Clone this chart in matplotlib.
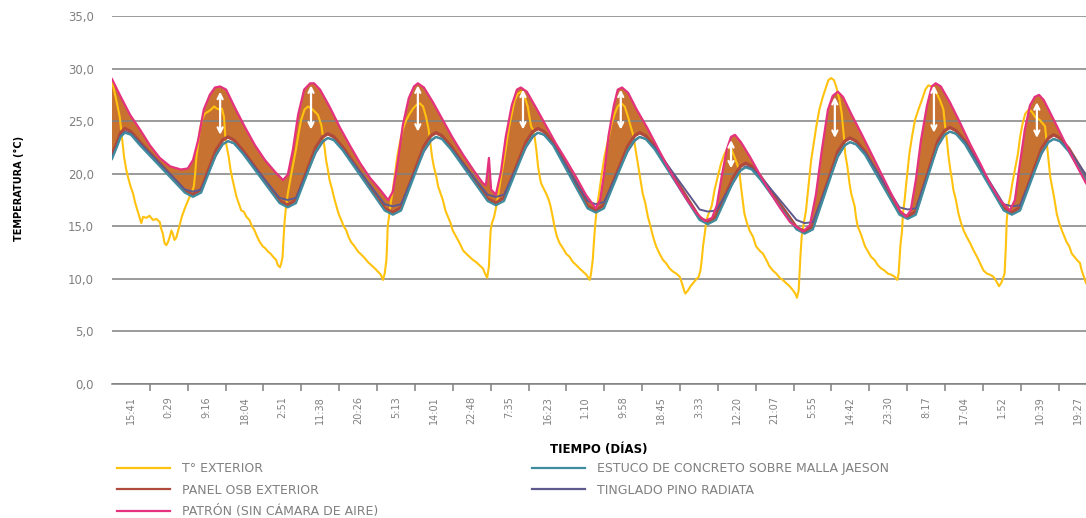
import numpy as np
import matplotlib.pyplot as plt
from matplotlib.lines import Line2D

# time axis: hours after the first reading (15:41)
tick_labels = ['15:41', '0:29', '9:16', '18:04', '2:51', '11:38', '20:26', '5:13', '14:01',
               '22:48', '7:35', '16:23', '1:10', '9:58', '18:45', '3:33', '12:20', '21:07',
               '5:55', '14:42', '23:30', '8:17', '17:04', '1:52', '10:39', '19:27']
tick_step = 8.79  # hours between labels

# T° exterior
ext_t = [-4.4, -3.4, -2.6, -2.1, -1.6, -1.1, -0.5, -0.1, 0.5, 1.0, 1.6, 2.0, 2.4, 2.8, 3.6, 4.3,
         5.1, 5.9, 6.7, 7.0, 7.4, 7.8, 8.2, 8.6, 9.0, 9.4, 9.7, 10.1, 10.5, 10.9, 11.3, 11.8,
         12.5, 13.1, 13.6, 14.2, 14.6, 14.9, 15.2, 15.6, 16.0, 16.5, 17.1, 17.9, 18.6, 19.3,
         19.9, 20.6, 21.1, 21.6, 21.9, 22.2, 22.7, 23.1, 23.6, 24.1, 24.5, 25.0, 25.6, 26.2,
         26.8, 27.5, 28.1, 28.7, 29.3, 29.9, 30.6, 31.2, 31.8, 32.4, 33.0, 33.7, 34.1, 34.6,
         34.9, 35.2, 35.4, 35.7, 36.0, 36.4, 37.1, 37.7, 38.3, 38.9, 39.5, 40.3, 41.1,
         42.2, 43.4, 44.2, 44.6, 45.0, 45.3, 45.7, 46.1, 46.7, 47.1, 47.7, 48.2, 48.8, 49.4,
         50.0, 50.5, 51.1, 51.9, 52.7, 53.5, 54.2, 55.0, 55.8, 56.6, 57.3, 58.0, 58.5, 58.9,
         59.3, 59.5, 59.6, 59.9, 60.3, 60.8, 61.3, 61.8, 62.4, 63.1, 63.9, 64.7, 65.5, 66.2,
         67.0, 67.8, 68.5, 69.1, 69.3, 69.6, 69.9, 70.3, 70.9, 71.3, 71.9, 72.4, 73.0, 73.6,
         74.2, 74.7, 75.5, 76.3, 77.1, 77.8, 78.6, 79.4, 80.1, 80.9, 81.7, 82.2, 82.7, 83.1,
         83.3, 83.5, 83.8, 84.3, 84.8, 85.3, 85.9, 86.6, 87.2, 87.8, 88.4,
         89.1, 89.8, 90.6, 91.4, 92.1, 92.5, 92.9, 93.3, 93.7, 94.1, 94.5, 94.9, 95.2, 95.9,
         96.4, 97.0, 97.4, 97.9, 98.3, 98.9, 99.5, 100.3, 101.0, 101.8, 102.6, 103.4, 104.1,
         104.9, 105.7, 106.5, 106.8, 107.2, 107.5, 107.8, 108.2, 108.8, 109.3, 109.9, 110.6,
         111.1, 111.6, 112.3, 113.0, 113.8, 114.6, 115.4, 116.0, 116.5, 116.9, 117.3, 117.8,
         118.3, 118.8, 119.4, 120.0, 120.6, 121.2, 121.9, 122.7, 123.5, 124.2, 125.0, 125.8,
         126.6, 127.4, 127.9, 128.4, 128.7, 129.3, 129.9, 130.5, 131.1, 131.8, 132.2, 132.5,
         132.8, 133.2, 133.6, 134.1, 134.8,
         135.5, 136.2, 137.0, 137.8, 138.6, 139.3, 140.1, 140.9, 141.3, 141.6, 142.0, 142.4,
         143.0, 143.6, 144.4, 145.1, 145.9, 146.7, 147.5, 148.2, 149.0, 149.8, 150.6, 151.3,
         152.1, 152.9, 153.7, 154.2, 154.6, 155.0, 155.2, 155.4, 155.7, 156.2, 156.7, 157.1,
         157.5, 157.9, 158.5, 159.1, 159.8, 160.6, 161.4, 161.9, 162.5, 163.2, 163.7, 164.5,
         165.0, 165.5, 165.8, 166.3, 166.8, 167.2, 167.6, 168.0, 168.3, 168.7, 169.4, 169.9,
         170.4, 171.1, 171.8, 172.6, 173.4, 174.1, 174.9, 175.7, 176.5, 177.3, 177.9, 178.2,
         178.4, 178.6, 179.0, 179.2, 179.6, 179.9, 180.3, 180.7, 181.3,
         182.0, 182.8, 183.6, 184.4, 185.1, 185.9, 187.1, 187.8, 188.6, 189.0, 189.4, 189.8,
         190.2, 190.6, 190.9, 191.5, 192.1, 192.7, 193.3, 194.0, 194.8, 195.6, 196.4, 197.1,
         197.9, 198.7, 199.4, 200.2, 201.0, 201.5, 202.0, 202.3, 202.8, 203.1, 203.3, 203.6,
         204.1, 204.6, 205.2, 205.9, 206.4, 207.0, 207.6, 208.4, 209.1, 209.9, 211.0, 212.2,
         212.6, 213.0, 213.4, 213.8, 214.4, 214.9, 215.5, 216.1, 216.7, 217.2, 217.8, 218.4,
         219.0, 219.6, 220.3, 220.7, 221.2, 221.7]
ext_T = [28.8, 27.0, 25.4, 23.5, 21.6, 20.4, 19.4, 18.8, 18.1, 17.2, 16.4, 15.9, 15.3, 15.9, 15.8, 16.0,
         15.6, 15.7, 15.4, 14.8, 14.3, 13.4, 13.2, 13.5, 14.0, 14.6, 14.3, 13.7, 13.9, 14.5, 15.1, 15.9,
         16.7, 17.3, 17.8, 18.3, 18.8, 20.0, 21.6, 22.9, 24.2, 25.1, 25.7, 25.9, 26.1, 26.4,
         26.2, 26.1, 26.2, 25.4, 23.5, 22.6, 21.6, 20.4, 19.4, 18.5, 17.8, 17.2, 16.5, 16.4,
         15.9, 15.6, 15.0, 14.6, 14.0, 13.5, 13.1, 12.9, 12.6, 12.4, 12.1, 11.8, 11.3, 11.1,
         11.5, 12.1, 13.7, 15.6, 16.9, 18.1, 19.7, 21.0, 22.3, 23.8, 25.1, 26.1, 26.4,
         26.1, 25.6, 24.6, 23.5, 22.3, 21.3, 20.4, 19.4, 18.5, 17.8, 16.9, 16.2, 15.6, 15.0,
         14.6, 14.0, 13.5, 13.1, 12.6, 12.3, 12.0, 11.6, 11.3, 11.0, 10.7, 10.4, 9.9, 10.5,
         11.8, 13.7, 15.0, 15.9, 17.2, 18.5, 20.0, 21.6, 22.9, 24.2, 25.1, 25.7, 26.2, 26.5,
         26.7, 26.4, 25.4, 24.2, 23.5, 22.6, 21.6, 20.7, 19.7, 18.8, 18.1, 17.5, 16.5, 15.9,
         15.3, 14.6, 14.0, 13.4, 12.7, 12.4, 12.1, 11.8, 11.6, 11.3, 11.0, 10.5, 10.1, 11.2,
         13.1, 14.6, 15.3, 15.9, 16.9, 18.1, 19.7, 21.3, 22.9, 24.5, 25.7,
         27.0, 27.6, 27.8, 27.3, 26.4, 25.4, 24.5, 24.2, 23.5, 22.3, 20.7, 19.7, 19.1, 18.5,
         18.1, 17.5, 16.9, 15.9, 15.0, 14.0, 13.4, 12.9, 12.4, 12.1, 11.6, 11.3, 11.0,
         10.7, 10.4, 9.9, 10.5, 11.8, 13.7, 15.3, 16.9, 18.5, 20.0, 21.6, 22.9,
         23.8, 24.8, 25.7, 26.4, 26.7, 26.4, 25.4, 24.5, 23.8, 22.9, 21.9, 20.7,
         19.4, 18.1, 17.2, 15.9, 15.0, 14.0, 13.1, 12.4, 11.8, 11.5, 11.0, 10.7,
         10.5, 10.2, 9.6, 8.9, 8.6, 8.9, 9.3, 9.6, 9.9, 10.2, 10.8, 11.8,
         13.1, 14.3, 15.6, 16.2, 16.9,
         18.5, 19.7, 21.0, 21.9, 22.5, 22.4, 21.6, 20.7, 20.0, 18.8, 17.5, 16.2,
         15.3, 14.6, 14.0, 13.1, 12.7, 12.4, 11.8, 11.2, 10.8, 10.5, 10.1, 9.9,
         9.6, 9.3, 8.9, 8.6, 8.2, 8.9, 10.5, 12.1, 14.0, 15.3, 16.5, 18.1,
         19.7, 21.3, 22.9, 24.5, 26.1, 27.3, 28.3, 28.9, 29.1, 28.9, 28.3, 27.0,
         25.7, 23.5, 21.9, 20.7, 19.1, 18.1, 17.5, 16.9, 15.9, 15.0, 14.3, 13.7,
         13.1, 12.6, 12.1, 11.8, 11.3, 11.0, 10.8, 10.5, 10.4, 10.2, 9.9, 10.5,
         11.8, 13.1, 14.6, 16.2, 17.5, 18.8, 20.4, 21.9, 23.5,
         25.1, 26.1, 27.0, 28.0, 28.4, 28.3, 27.6, 27.0, 26.1, 24.5, 23.2, 21.6,
         20.4, 19.4, 18.5, 17.5, 16.2, 15.3, 14.6, 14.0, 13.4, 12.7, 12.1, 11.5,
         10.8, 10.5, 10.4, 10.2, 9.7, 9.3, 9.6, 9.9, 10.5, 13.1, 15.6, 16.9,
         17.8, 19.1, 20.4, 21.9, 23.5, 24.8, 25.7, 26.1, 25.9, 25.4, 25.1, 24.5,
         22.9, 21.3, 19.7, 18.8, 17.5, 16.2, 15.3, 14.6, 14.0, 13.5, 13.1, 12.4,
         12.1, 11.8, 11.5, 10.8, 10.2, 9.6]

# Patrón (sin cámara de aire)
pat_t = [-4.4, -2.6, -0.2, 2.1, 4.4, 6.7, 9.1, 11.6, 13.2, 14.4, 15.6, 16.9, 18.3, 19.5, 20.7,
         22.1, 24.1, 26.5, 28.8, 31.1, 33.4, 35.3, 36.4, 37.6, 38.8, 40.2, 41.6, 42.5, 43.9,
         46.2, 48.5, 50.8, 53.2, 55.5, 57.8, 59.7, 60.8, 62.0, 63.1, 64.5, 65.7, 66.6, 68.0,
         70.1, 72.4, 74.7, 77.1, 79.4, 81.7, 82.4, 83.1, 83.6, 84.7, 85.9, 87.0, 88.4, 89.6,
         90.5, 91.9, 94.0, 96.3, 98.6, 101.0, 103.3, 105.6, 107.9, 108.9, 109.8, 110.9, 112.1,
         113.0, 114.0, 115.4, 117.4, 119.8, 122.1, 124.4, 126.7, 129.1, 131.4, 133.2, 134.9,
         136.0, 137.2, 138.3, 139.3, 140.2, 141.6, 143.7, 146.0, 148.3, 150.6, 153.0, 156.0,
         157.6, 159.0, 160.4, 161.8, 162.9, 164.1, 165.3, 167.3, 169.7, 172.0, 174.3, 176.6,
         178.5, 179.9, 181.0, 182.2, 183.4, 184.8, 185.9, 186.8, 188.0, 190.1, 192.4, 194.7,
         197.1, 199.4, 201.7, 204.0, 205.2, 206.3, 207.5, 208.7, 209.8, 210.8, 211.9, 214.0,
         216.3, 218.6, 221.7]
pat_T = [29.0, 27.5, 25.6, 24.2, 22.7, 21.5, 20.7, 20.4, 20.5, 21.3, 23.2, 26.1, 27.5, 28.2, 28.3,
         28.0, 26.3, 24.4, 22.7, 21.3, 20.2, 19.4, 19.9, 22.3, 25.6, 28.0, 28.6, 28.6, 28.0,
         26.3, 24.4, 22.7, 21.0, 19.6, 18.5, 17.5, 18.3, 21.3, 24.6, 27.2, 28.3, 28.6, 28.2,
         26.8, 25.1, 23.4, 21.8, 20.4, 19.1, 18.9, 21.5, 18.5, 18.0, 20.2, 23.5, 26.5, 28.0,
         28.2, 27.8, 26.3, 24.6, 22.9, 21.3, 19.7, 18.0, 16.7, 17.5, 19.9, 23.7, 26.5,
         28.0, 28.2, 27.7, 26.1, 24.4, 22.6, 20.8, 19.1, 17.5, 16.2, 15.5, 15.8,
         17.0, 19.9, 22.3, 23.5, 23.7, 23.0, 21.6, 19.9, 18.3, 16.8, 15.4, 14.5,
         15.1, 18.0, 22.3, 26.1, 27.4, 27.8, 27.3, 25.6, 23.7, 21.8, 19.9, 18.0,
         16.5, 15.9, 16.5, 19.4, 23.2, 26.5, 28.3, 28.6, 28.3, 26.8, 24.9, 22.9,
         21.0, 19.1, 17.5, 16.5, 17.5, 20.8, 24.2, 26.5, 27.3, 27.5, 27.0, 25.3,
         23.4, 21.5, 19.1]

# inner walls: shared reading times
inner_t = [-4.4, -3.2, -2.4, -1.4, 0.0, 2.1,
           12.5, 14.4, 16.3, 19.7, 21.3, 22.5, 23.9, 26.0,
           34.5, 36.4, 38.3, 42.9, 44.5, 45.7, 47.1, 49.2,
           58.9, 60.8, 62.7, 68.0, 69.6, 70.8, 72.2, 74.3,
           82.8, 84.7, 86.6, 91.7, 93.3, 94.5, 95.9, 98.0,
           106.0, 107.9, 109.8, 115.3, 116.9, 118.1, 119.5, 121.6,
           132.0, 133.9, 135.8, 139.9, 141.5, 142.7, 144.1, 146.2,
           154.5, 156.4, 158.3, 164.1, 165.7, 166.9, 168.3, 170.4,
           178.4, 180.3, 182.2, 187.3, 188.9, 190.1, 191.5, 193.6,
           202.6, 204.5, 206.4, 211.4, 213.0, 214.2, 215.6, 217.7,
           221.7]
osb_T = [21.8, 23.0, 23.9, 24.3, 24.0, 23.0,
         18.4, 18.0, 18.5, 22.2, 23.2, 23.5, 23.2, 22.2,
         17.4, 17.0, 17.5, 22.5, 23.5, 23.8, 23.5, 22.5,
         16.7, 16.3, 16.8, 22.6, 23.6, 23.9, 23.6, 22.6,
         17.6, 17.2, 17.7, 23.0, 24.0, 24.3, 24.0, 23.0,
         16.9, 16.5, 17.0, 22.6, 23.6, 23.9, 23.6, 22.6,
         15.8, 15.4, 15.9, 19.7, 20.7, 21.0, 20.7, 19.7,
         14.9, 14.5, 15.0, 22.1, 23.1, 23.4, 23.1, 22.1,
         16.3, 15.9, 16.4, 23.1, 24.1, 24.4, 24.1, 23.1,
         16.7, 16.3, 16.8, 22.4, 23.4, 23.7, 23.4, 22.4,
         19.7]
estuco_T = [21.4, 22.6, 23.5, 23.9, 23.7, 22.7,
            18.2, 17.8, 18.2, 21.8, 22.8, 23.1, 22.9, 21.9,
            17.2, 16.8, 17.2, 22.1, 23.1, 23.4, 23.2, 22.2,
            16.5, 16.1, 16.5, 22.2, 23.2, 23.5, 23.3, 22.3,
            17.4, 17.0, 17.4, 22.6, 23.6, 23.9, 23.7, 22.7,
            16.7, 16.3, 16.7, 22.2, 23.2, 23.5, 23.3, 22.3,
            15.6, 15.2, 15.6, 19.3, 20.3, 20.6, 20.4, 19.4,
            14.7, 14.3, 14.7, 21.7, 22.7, 23.0, 22.8, 21.8,
            16.1, 15.7, 16.1, 22.7, 23.7, 24.0, 23.8, 22.8,
            16.5, 16.1, 16.5, 22.0, 23.0, 23.3, 23.1, 22.1,
            19.4]
tinglado_T = [21.6, 22.7, 23.6, 24.0, 23.8, 22.9,
              18.5, 18.3, 18.5, 21.7, 22.8, 23.1, 22.9, 22.0,
              17.7, 17.5, 17.7, 22.0, 23.0, 23.4, 23.2, 22.3,
              17.1, 16.9, 17.1, 22.1, 23.1, 23.5, 23.3, 22.4,
              18.0, 17.8, 18.0, 22.5, 23.5, 23.9, 23.7, 22.8,
              17.4, 17.1, 17.3, 22.1, 23.1, 23.5, 23.3, 22.5,
              16.6, 16.4, 16.5, 19.2, 20.3, 20.7, 20.5, 19.7,
              15.6, 15.3, 15.4, 21.6, 22.7, 23.0, 22.8, 22.0,
              16.8, 16.6, 16.7, 22.6, 23.7, 24.0, 23.8, 23.0,
              17.1, 16.9, 17.0, 21.9, 23.0, 23.3, 23.1, 22.3,
              19.9]

# white double arrows (amplitude between patrón and the walls)
arrow_t = [20.7, 41.8, 66.6, 91.0, 113.7, 139.3, 163.4, 186.4, 210.3]
arrow_top = [27.8, 28.4, 28.4, 28.0, 28.0, 23.2, 27.3, 28.4, 26.8]
arrow_bot = [23.7, 24.2, 24.0, 24.2, 24.2, 20.5, 23.4, 23.9, 23.4]

c_ext = '#FFC20E'
c_osb = '#B04A3C'
c_pat = '#E5327F'
c_est = '#3F8C9E'
c_tin = '#5E5A8E'
c_fill = '#C87232'
grey = '#808080'

fig = plt.figure(figsize=(10.86, 5.18), dpi=100)
ax = fig.add_axes([112 / 1086, 1 - 384 / 518, (1086 - 112) / 1086, (384 - 16) / 518])

ax.fill(np.concatenate([pat_t, inner_t[::-1]]), np.concatenate([pat_T, osb_T[::-1]]),
        color=c_fill, lw=0, zorder=1)
ax.plot(ext_t, ext_T, color=c_ext, lw=1.5, zorder=3)
ax.plot(inner_t, osb_T, color=c_osb, lw=2.4, zorder=4)
ax.plot(inner_t, tinglado_T, color=c_tin, lw=1.4, zorder=5)
ax.plot(inner_t, estuco_T, color=c_est, lw=1.6, zorder=5)
ax.plot(pat_t, pat_T, color=c_pat, lw=1.6, zorder=6)

for t, top, bot in zip(arrow_t, arrow_top, arrow_bot):
    ax.annotate('', xy=(t, bot), xytext=(t, top), zorder=7,
                arrowprops=dict(arrowstyle='<->', color='white', lw=1.6,
                                mutation_scale=9, shrinkA=0, shrinkB=0))

ax.set_xlim(-4.4, 221.7)
ax.set_ylim(0, 35)

yt = np.arange(0, 36, 5)
ax.set_yticks(yt)
ax.set_yticklabels([f'{v:.1f}'.replace('.', ',') for v in yt])
ax.yaxis.grid(True, color=grey, lw=1.1)
ax.set_axisbelow('line')
ax.tick_params(axis='y', length=0, pad=13, labelsize=8.5, labelcolor=grey)

label_pos = np.arange(len(tick_labels)) * tick_step
ax.set_xticks(label_pos[:-1] + tick_step / 2)
ax.set_xticklabels([])
ax.set_xticks(label_pos, minor=True)
ax.set_xticklabels(tick_labels, minor=True, rotation=90, fontsize=7, color=grey)
ax.tick_params(axis='x', which='major', length=5, width=1.1, color=grey)
ax.tick_params(axis='x', which='minor', length=0, pad=9)

for s in ['top', 'right', 'left']:
    ax.spines[s].set_visible(False)
ax.spines['bottom'].set_color(grey)
ax.spines['bottom'].set_linewidth(1.1)

fig.text(19 / 1086, 1 - 188 / 518, 'TEMPERATURA (°C)', rotation=90, fontsize=7,
         fontweight='bold', ha='center', va='center')
fig.text(599 / 1086, 1 - 450 / 518, 'TIEMPO (DÍAS)', fontsize=8.5,
         fontweight='bold', ha='center', va='center')

h1 = [Line2D([], [], color=c_ext, lw=1.6), Line2D([], [], color=c_osb, lw=1.6),
      Line2D([], [], color=c_pat, lw=1.6)]
l1 = ['T° EXTERIOR', 'PANEL OSB EXTERIOR', 'PATRÓN (SIN CÁMARA DE AIRE)']
h2 = [Line2D([], [], color=c_est, lw=1.6), Line2D([], [], color=c_tin, lw=1.6)]
l2 = ['ESTUCO DE CONCRETO SOBRE MALLA JAESON', 'TINGLADO PINO RADIATA']
kw = dict(loc='upper left', frameon=False, fontsize=9, labelcolor=grey, handlelength=4.2,
          handletextpad=1.0, labelspacing=0.7, borderpad=0, borderaxespad=0)
fig.legend(h1, l1, bbox_to_anchor=(117 / 1086, 1 - 462 / 518), **kw)
fig.legend(h2, l2, bbox_to_anchor=(532 / 1086, 1 - 462 / 518), **kw)

fig.savefig('out.png', dpi=100)
